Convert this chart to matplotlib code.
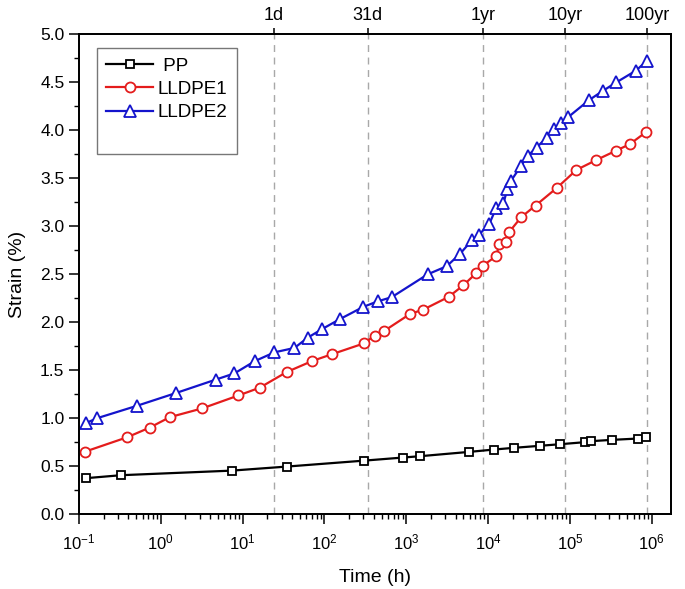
import matplotlib
matplotlib.use("Agg")
import matplotlib.pyplot as plt
from matplotlib.lines import Line2D
from matplotlib.ticker import LogLocator, FixedLocator, NullFormatter, MultipleLocator, FormatStrFormatter

plt.rcParams['font.family'] = ['Liberation Sans', 'DejaVu Sans']
plt.rcParams['mathtext.fontset'] = 'custom'
plt.rcParams['mathtext.rm'] = 'Liberation Sans'
plt.rcParams['mathtext.it'] = 'Liberation Sans:italic'
plt.rcParams['mathtext.default'] = 'regular'

# ---- data ----
pp_t = [0.121, 0.325, 7.4, 34.6, 306, 906, 1470, 5880, 11660, 20500, 42500,
        75900, 151500, 183000, 324000, 672000, 860000]
pp_s = [0.373, 0.404, 0.452, 0.494, 0.556, 0.588, 0.602, 0.647, 0.671, 0.689, 0.710,
        0.727, 0.748, 0.759, 0.772, 0.786, 0.797]

l1_t = [0.119, 0.39, 0.735, 1.29, 3.2, 8.9, 16.1, 34.6, 71, 122, 306, 409, 537,
        1113, 1615, 3300, 4990, 7120, 8580, 12540, 13700, 16560, 18130, 25400,
        38000, 69900, 120000, 211000, 369000, 538000, 858000]
l1_s = [0.650, 0.800, 0.901, 1.009, 1.100, 1.235, 1.315, 1.479, 1.594, 1.663, 1.778,
        1.858, 1.907, 2.084, 2.129, 2.262, 2.383, 2.507, 2.585, 2.686, 2.808, 2.832,
        2.938, 3.092, 3.213, 3.400, 3.584, 3.688, 3.786, 3.852, 3.980]

l2_t = [0.121, 0.168, 0.51, 1.53, 4.66, 7.95, 14.2, 24.5, 43, 62.5, 94.3, 156, 299,
        450, 662, 1830, 3120, 4540, 6360, 7660, 10380, 12540, 15390, 17260, 19000,
        25200, 30400, 39100, 51800, 64300, 77600, 96100, 171000, 253000, 369000,
        637000, 873000]
l2_s = [0.947, 0.999, 1.127, 1.260, 1.399, 1.465, 1.594, 1.684, 1.730, 1.837, 1.928,
        2.032, 2.158, 2.216, 2.258, 2.497, 2.581, 2.710, 2.853, 2.905, 3.024, 3.187,
        3.236, 3.389, 3.469, 3.625, 3.730, 3.817, 3.920, 4.008, 4.078, 4.137, 4.311,
        4.408, 4.496, 4.617, 4.720]

decades = [0.1, 1, 10, 100, 1000, 10000, 100000, 1000000]

mark_t = [24, 336, 8760, 87600, 876000]
mark_lbl = ['1d', '31d', '1yr', '10yr', '100yr']

series_names = [' PP', 'LLDPE1', 'LLDPE2']

# ---- figure ----
fig = plt.figure(figsize=(6.85, 5.89), dpi=100)
ax = fig.add_axes([79/685, 1 - 514/589, (671 - 79)/685, (514 - 34)/589])

for t in mark_t:
    ax.axvline(t, color='#a8a8a8', lw=1.0, ls=(0, (5, 4)), zorder=1)

red = '#e41c1c'
blue = '#1414cc'
h1, = ax.plot(pp_t, pp_s, color='black', lw=1.6, marker='s', ms=6.2, mfc='white',
              mec='black', mew=1.3, zorder=3)
h2, = ax.plot(l1_t, l1_s, color=red, lw=1.6, marker='o', ms=7.2, mfc='white',
              mec=red, mew=1.3, zorder=3)
h3, = ax.plot(l2_t, l2_s, color=blue, lw=1.6, marker='^', ms=8, mfc='white',
              mec=blue, mew=1.3, zorder=3)

ax.set_xscale('log')
ax.set_xlim(0.1, 1.72e6)
ax.set_ylim(0, 5.0)
ax.yaxis.set_major_locator(MultipleLocator(0.5))
ax.yaxis.set_minor_locator(MultipleLocator(0.25))
ax.yaxis.set_major_formatter(FormatStrFormatter('%.1f'))
ax.xaxis.set_major_locator(FixedLocator(decades))
ax.xaxis.set_minor_locator(LogLocator(base=10, subs=range(2, 10), numticks=20))
ax.xaxis.set_minor_formatter(NullFormatter())

ax.tick_params(axis='both', which='major', direction='out', length=7, width=1.1,
               top=False, right=False)
ax.tick_params(axis='both', which='minor', direction='out', length=3.8, width=1.0,
               top=False, right=False)
ax.tick_params(axis='x', which='major', pad=6, labelsize=12)
ax.tick_params(axis='y', which='major', pad=3.5, labelsize=12.5)
for sp in ax.spines.values():
    sp.set_linewidth(1.3)

ax.set_xlabel('Time (h)', fontsize=14, labelpad=12)
ax.set_ylabel('Strain (%)', fontsize=14, labelpad=10)

top = ax.twiny()
top.set_xscale('log')
top.set_xlim(ax.get_xlim())
top.xaxis.set_major_locator(FixedLocator(mark_t))
top.xaxis.set_minor_locator(FixedLocator([]))
top.set_xticklabels(mark_lbl)
top.tick_params(axis='x', which='major', direction='out', length=4.5, width=1.1,
                labelsize=13, pad=2.5)
for sp in top.spines.values():
    sp.set_linewidth(1.3)

blank = Line2D([], [], linestyle='none')
leg = ax.legend([h1, h2, h3, blank], series_names + [' '], loc='upper left',
                bbox_to_anchor=(0.03, 0.971), borderaxespad=0, fontsize=13.6,
                frameon=True, fancybox=False, edgecolor='#555555',
                handlelength=2.5, handletextpad=0.22, labelspacing=0.32,
                borderpad=0.5)
leg.get_frame().set_linewidth(1.0)

fig.savefig('out.png', dpi=100)
